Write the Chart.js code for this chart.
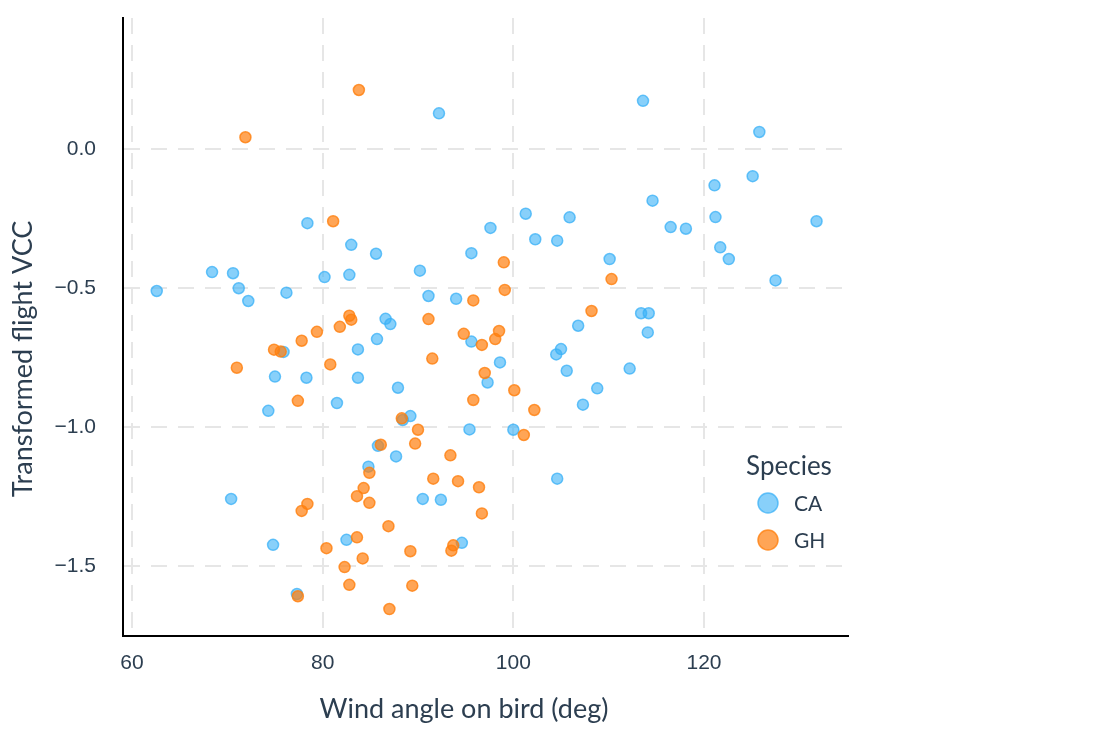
<!DOCTYPE html>
<html>
<head>
<meta charset="utf-8">
<script src="https://cdn.jsdelivr.net/npm/chart.js@4.4.1/dist/chart.umd.min.js"></script>
<style>
  html, body { margin: 0; padding: 0; background: #fff; }
  #wrap { width: 1097px; height: 740px; position: relative; }
</style>
</head>
<body>
<div id="wrap"><canvas id="scatterChart"></canvas></div>
<script>
// Species CA (wind angle, transformed VCC)
const caX = [62.6, 68.4, 70.6, 71.2, 72.2, 76.2, 78.4, 80.2, 82.8, 83.0, 85.6, 92.2, 101.3, 105.9, 97.6,
  102.3, 104.6, 95.6, 90.2, 91.1, 94.0, 86.6, 87.1, 110.1, 113.6, 125.8, 125.1, 121.1, 114.6, 121.2,
  116.5, 118.1, 131.8, 121.7, 122.6, 127.5, 113.4, 114.2, 114.1, 75.9, 83.7, 75.0, 78.3, 83.7, 81.5,
  74.3, 70.4, 84.8, 74.8, 82.5, 77.3, 85.7, 95.6, 98.6, 97.3, 87.9, 106.8, 105.0, 104.5, 105.6,
  108.8, 107.3, 89.2, 88.4, 95.4, 100.0, 85.8, 87.7, 90.5, 92.4, 94.6, 104.6, 112.2];
const caY = [-0.511, -0.443, -0.447, -0.501, -0.547, -0.517, -0.267, -0.461, -0.453, -0.345, -0.377, 0.128, -0.233, -0.246, -0.284,
  -0.325, -0.330, -0.375, -0.438, -0.529, -0.539, -0.611, -0.630, -0.396, 0.173, 0.061, -0.098, -0.131, -0.186, -0.245,
  -0.281, -0.287, -0.260, -0.354, -0.396, -0.473, -0.591, -0.591, -0.660, -0.730, -0.721, -0.819, -0.823, -0.823, -0.914,
  -0.942, -1.259, -1.143, -1.424, -1.406, -1.601, -0.684, -0.693, -0.768, -0.840, -0.859, -0.636, -0.720, -0.739, -0.798,
  -0.861, -0.920, -0.961, -0.975, -1.009, -1.010, -1.068, -1.106, -1.259, -1.262, -1.417, -1.186, -0.790];

// Species GH
const ghX = [83.8, 71.9, 81.1, 82.8, 83.0, 81.8, 79.4, 99.0, 99.1, 95.8, 91.1, 94.8, 98.5, 110.3, 77.8,
  74.9, 75.6, 71.0, 80.8, 77.4, 78.4, 77.8, 84.3, 83.6, 84.9, 84.9, 83.6, 80.4, 84.2, 82.3,
  82.8, 77.4, 96.7, 98.1, 91.5, 97.0, 95.8, 100.1, 102.2, 88.3, 90.0, 101.1, 86.1, 89.7, 93.4,
  91.6, 94.2, 96.4, 96.7, 86.9, 93.7, 93.5, 89.2, 89.4, 87.0, 108.2];
const ghY = [0.212, 0.042, -0.260, -0.600, -0.614, -0.640, -0.658, -0.408, -0.507, -0.545, -0.612, -0.665, -0.655, -0.468, -0.690,
  -0.722, -0.729, -0.787, -0.775, -0.906, -1.277, -1.302, -1.220, -1.249, -1.273, -1.165, -1.397, -1.436, -1.473, -1.504,
  -1.568, -1.609, -0.705, -0.684, -0.754, -0.806, -0.903, -0.868, -0.939, -0.969, -1.010, -1.029, -1.064, -1.060, -1.102,
  -1.186, -1.195, -1.217, -1.311, -1.357, -1.426, -1.445, -1.447, -1.571, -1.655, -0.583];

const speciesLabels = ["CA", "GH"];
const xTicks = [60, 80, 100, 120];
const yTicks = [-1.5, -1.0, -0.5, 0.0];
const xTitle = "Wind angle on bird (deg)";
const yTitle = "Transformed flight VCC";

const textColor = "#2c3e50";
const caColor = "rgba(56, 176, 247, 0.6)";
const caBorder = "rgba(56, 176, 247, 0.75)";
const ghColor = "rgba(255, 127, 14, 0.7)";
const ghBorder = "rgba(255, 127, 14, 0.8)";

const toPoints = (xs, ys) => xs.map((x, i) => ({ x: x, y: ys[i] }));

// axis titles + legend (inside the plot, lower right)
const figureText = {
  id: "figureText",
  afterDraw(chart) {
    const ctx = chart.ctx;
    ctx.save();
    ctx.fillStyle = textColor;
    ctx.textAlign = "center";
    ctx.textBaseline = "middle";
    ctx.font = "27px Lato";
    ctx.fillText(xTitle, 464, 709);
    ctx.save();
    ctx.translate(23, 359);
    ctx.rotate(-Math.PI / 2);
    ctx.fillText(yTitle, 0, 0);
    ctx.restore();

    ctx.font = "26px Lato";
    ctx.fillText("Species", 789, 467);
    ctx.font = "21px Lato";
    ctx.textAlign = "left";
    chart.data.datasets.forEach((ds, i) => {
      const y = 503 + i * 37;
      ctx.beginPath();
      ctx.arc(768, y, 10, 0, Math.PI * 2);
      ctx.fillStyle = ds.backgroundColor;
      ctx.fill();
      ctx.lineWidth = 1.5;
      ctx.strokeStyle = ds.borderColor;
      ctx.stroke();
      ctx.fillStyle = textColor;
      ctx.fillText(ds.label, 794, y + 1);
    });
    ctx.restore();
  },
};

new Chart(document.getElementById("scatterChart").getContext("2d"), {
  type: "scatter",
  data: {
    datasets: [
      {
        label: speciesLabels[0],
        data: toPoints(caX, caY),
        backgroundColor: caColor,
        borderColor: caBorder,
        borderWidth: 1.5,
        pointRadius: 5.5,
        order: 1,
      },
      {
        label: speciesLabels[1],
        data: toPoints(ghX, ghY),
        backgroundColor: ghColor,
        borderColor: ghBorder,
        borderWidth: 1.5,
        pointRadius: 5.5,
        order: 0,
      },
    ],
  },
  options: {
    responsive: true,
    maintainAspectRatio: false,
    animation: false,
    layout: { padding: { top: 18, right: 249, bottom: 0, left: 0 } },
    plugins: {
      legend: { display: false },
      tooltip: { enabled: false },
    },
    scales: {
      x: {
        type: "linear",
        min: 59.06,
        max: 135.1,
        afterBuildTicks: (scale) => { scale.ticks = xTicks.map((v) => ({ value: v })); },
        afterFit: (scale) => { scale.height = 104; },
        grid: { color: "#e6e6e6", lineWidth: 2, drawTicks: true, tickLength: 15, tickColor: "rgba(0,0,0,0)" },
        border: { display: true, color: "#000", width: 2, dash: [16, 11] },
        ticks: {
          padding: 0,
          color: textColor,
          font: { family: "Liberation Sans", size: 21 },
          callback: (v) => String(v),
        },
      },
      y: {
        type: "linear",
        min: -1.752,
        max: 0.471,
        afterBuildTicks: (scale) => { scale.ticks = yTicks.map((v) => ({ value: v })); },
        afterFit: (scale) => { scale.width = 123; },
        grid: { color: "#e6e6e6", lineWidth: 2, drawTicks: true, tickLength: 27, tickColor: "rgba(0,0,0,0)" },
        border: { display: true, color: "#000", width: 2, dash: [16, 11] },
        ticks: {
          padding: 0,
          color: textColor,
          font: { family: "Liberation Sans", size: 21 },
          callback: (v) => v.toFixed(1).replace("-", "\u2212"),
        },
      },
    },
  },
  plugins: [figureText],
});
</script>
</body>
</html>
